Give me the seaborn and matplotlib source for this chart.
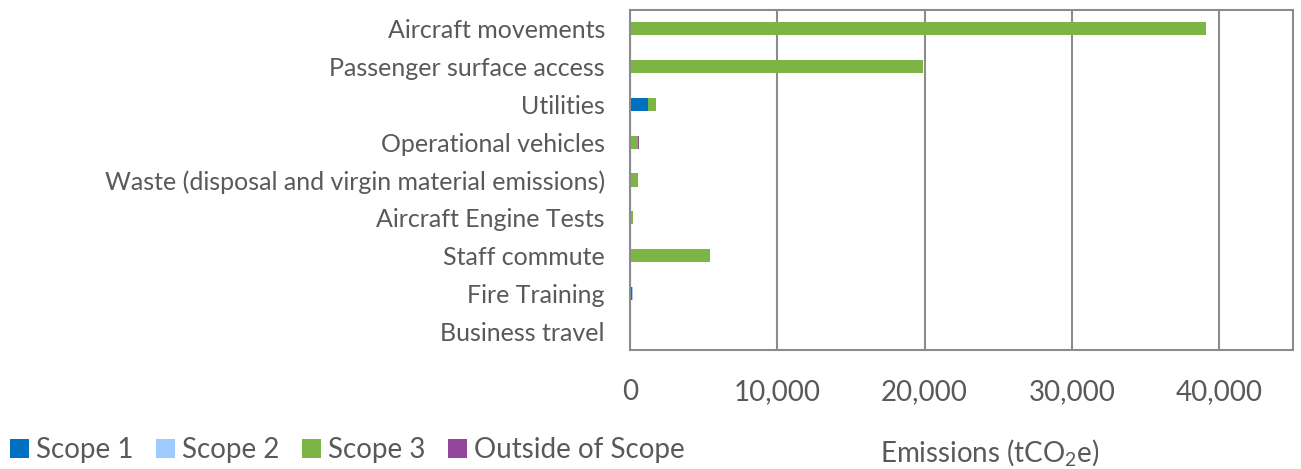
import numpy as np
import pandas as pd
import seaborn as sns
import matplotlib.pyplot as plt
from matplotlib.patches import Patch
from matplotlib.ticker import FuncFormatter

categories = ["Aircraft movements", "Passenger surface access", "Utilities",
              "Operational vehicles", "Waste (disposal and virgin material emissions)",
              "Aircraft Engine Tests", "Staff commute", "Fire Training", "Business travel"]
scope1 = [0, 0, 1220, 40, 0, 0, 0, 170, 0]
scope2 = [0, 0, 20, 0, 0, 0, 0, 40, 0]
scope3 = [39100, 19900, 520, 540, 530, 230, 5450, 0, 0]
outside = [0, 0, 0, 50, 0, 0, 0, 0, 0]

series = ["Scope 1", "Scope 2", "Scope 3", "Outside of Scope"]
colors = ["#0070C0", "#9DCBFF", "#7DB544", "#93469B"]

df = pd.DataFrame({"category": categories, "Scope 1": scope1, "Scope 2": scope2,
                   "Scope 3": scope3, "Outside of Scope": outside})
# cumulative sums so the stacks can be drawn back to front
cum = df[series].cumsum(axis=1)

sns.set_style("white")
plt.rcParams['font.family'] = ['Lato', 'DejaVu Sans']
plt.rcParams['mathtext.fontset'] = 'custom'
plt.rcParams['mathtext.rm'] = 'Lato'
text_col = "#595959"
grid_col = "#8C8C8C"

fig = plt.figure(figsize=(13.01, 4.69), dpi=100)
ax = fig.add_axes([0.4842, 0.2537, 0.5097, 0.7250])

for s, c in reversed(list(zip(series, colors))):
    sns.barplot(x=cum[s], y=df["category"], orient="h", color=c, width=0.35,
                ax=ax, saturation=1, linewidth=0)

ax.set_xlim(0, 45000)
ax.set_ylim(8.5, -0.5)
ax.set_xticks([0, 10000, 20000, 30000, 40000])
ax.xaxis.set_major_formatter(FuncFormatter(lambda v, p: f"{int(v):,}"))
ax.grid(axis="x", color=grid_col, linewidth=1.5)
ax.grid(axis="y", visible=False)
ax.set_axisbelow(True)
for sp in ax.spines.values():
    sp.set_visible(True)
    sp.set_color(grid_col)
    sp.set_linewidth(1.5)
ax.tick_params(axis="both", length=0, labelcolor=text_col)
ax.tick_params(axis="x", pad=21, labelsize=20)
ax.tick_params(axis="y", pad=18, labelsize=18)
ax.set_ylabel("")
ax.set_xlabel(r"Emissions (tCO$\mathregular{_2}$e)", fontsize=20, color=text_col)
ax.xaxis.set_label_coords(0.542, -0.255)

handles = [Patch(facecolor=c, edgecolor="none") for c in colors]
fig.legend(handles, series, loc="lower left", bbox_to_anchor=(0.001, -0.005), ncol=4,
           frameon=False, fontsize=20, labelcolor=text_col, handlelength=0.7,
           handleheight=0.7, handletextpad=0.25, columnspacing=0.8,
           borderpad=0.1, borderaxespad=0.2)

fig.savefig("out.png", dpi=100)
